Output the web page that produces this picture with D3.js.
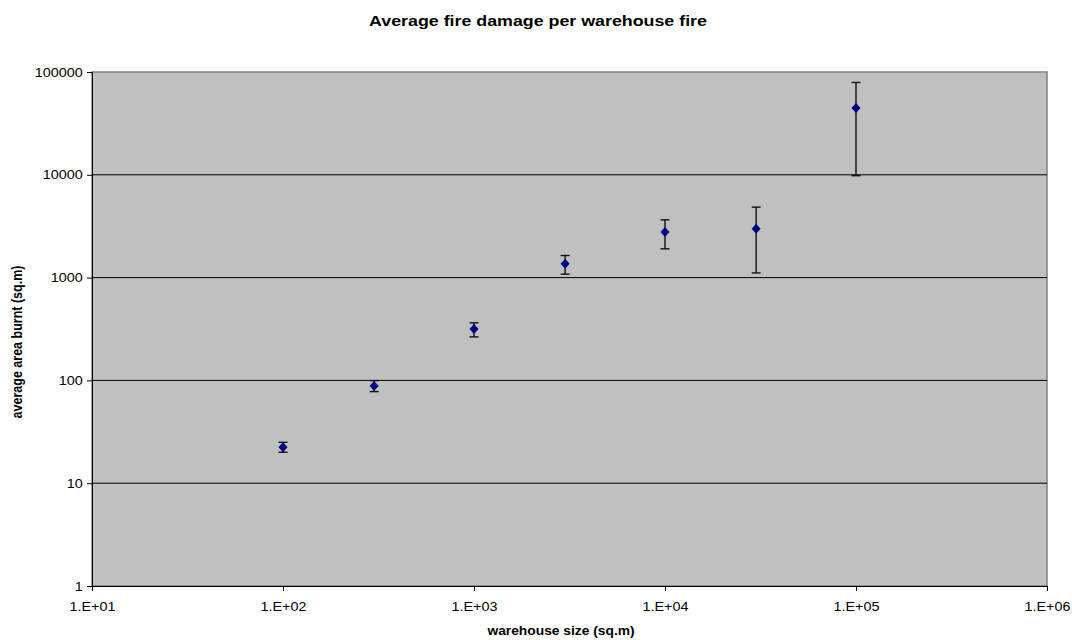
<!DOCTYPE html>
<html>
<head>
<meta charset="utf-8">
<script src="https://cdn.jsdelivr.net/npm/d3@7"></script>
<style>
  body { margin: 0; background: #fff; }
  svg { font-family: "Liberation Sans", Arial, sans-serif; }
</style>
</head>
<body>
<svg id="chart" width="1072" height="640"></svg>
<script>
// warehouse size (sq.m) and average area burnt with error range
const sizes = [100, 300, 1000, 3000, 10000, 30000, 100000];
const burnt = [22.4, 88.4, 317, 1360, 2770, 2980, 44600];
const errLow = [20.0, 77.8, 265, 1080, 1905, 1110, 9800];
const errHigh = [25.0, 99.5, 363, 1640, 3650, 4850, 79100];
const xTicks = [1e1, 1e2, 1e3, 1e4, 1e5, 1e6];
const yTicks = [1, 10, 100, 1000, 10000, 100000];

const svg = d3.select('#chart');
const margin = { top: 72, right: 25, bottom: 54, left: 92 };
const width = 1072, height = 640;
const innerWidth = width - margin.left - margin.right;
const innerHeight = height - margin.top - margin.bottom;
const stretch = 1.15; // text in the original is a bit wide
const g = svg.append('g').attr('transform', `translate(${margin.left},${margin.top})`);

const x = d3.scaleLog().domain([10, 1e6]).range([0, innerWidth]);
const y = d3.scaleLog().domain([1, 1e5]).range([innerHeight, 0]);

g.append('rect')
    .attr('width', innerWidth)
    .attr('height', innerHeight)
    .attr('fill', '#c0c0c0')
    .attr('stroke', '#808080')
    .attr('stroke-width', 1.5);

// horizontal gridlines
g.selectAll('.grid')
    .data(yTicks.slice(1, -1))
    .enter().append('line')
    .attr('x1', 0).attr('x2', innerWidth)
    .attr('y1', d => y(d)).attr('y2', d => y(d))
    .attr('stroke', '#000').attr('stroke-width', 1);

const yAxis = g.append('g')
    .call(d3.axisLeft(y).tickValues(yTicks).tickFormat(d3.format('d')).tickSize(5).tickPadding(3));
const xAxis = g.append('g').attr('transform', `translate(0,${innerHeight})`)
    .call(d3.axisBottom(x).tickValues(xTicks)
        .tickFormat(d => '1.E+' + String(Math.round(Math.log10(d))).padStart(2, '0'))
        .tickSize(5).tickPadding(11));
[yAxis, xAxis].forEach(a => {
    a.selectAll('text').attr('font-size', 12.5).attr('fill', '#000')
        .attr('font-family', '"Liberation Sans", Arial, sans-serif')
        .attr('transform', `scale(${stretch},1)`);
    a.selectAll('line, path').attr('stroke', '#000');
});

// error bars
const capW = 4.5;
const errs = g.selectAll('.err')
    .data(sizes.map((s, i) => ({ s, lo: errLow[i], hi: errHigh[i] })))
    .enter().append('g').attr('stroke', '#111').attr('stroke-width', 1.4);
errs.append('line')
    .attr('x1', d => x(d.s)).attr('x2', d => x(d.s))
    .attr('y1', d => y(d.lo)).attr('y2', d => y(d.hi));
errs.append('line')
    .attr('x1', d => x(d.s) - capW).attr('x2', d => x(d.s) + capW)
    .attr('y1', d => y(d.lo)).attr('y2', d => y(d.lo));
errs.append('line')
    .attr('x1', d => x(d.s) - capW).attr('x2', d => x(d.s) + capW)
    .attr('y1', d => y(d.hi)).attr('y2', d => y(d.hi));

// diamond markers
g.selectAll('.pt')
    .data(sizes.map((s, i) => ({ s, v: burnt[i] })))
    .enter().append('path')
    .attr('d', 'M0,-5L4.5,0L0,5L-4.5,0Z')
    .attr('transform', d => `translate(${x(d.s)},${y(d.v)})`)
    .attr('fill', '#000080');

svg.append('text')
    .attr('transform', `translate(538,26) scale(${stretch},1)`)
    .attr('text-anchor', 'middle')
    .attr('font-size', 15.5).attr('font-weight', 'bold')
    .text('Average fire damage per warehouse fire');

svg.append('text')
    .attr('transform', `translate(561,635) scale(${stretch},1)`)
    .attr('text-anchor', 'middle')
    .attr('font-size', 12).attr('font-weight', 'bold')
    .text('warehouse size (sq.m)');

svg.append('text')
    .attr('transform', `translate(22,342) scale(${stretch},1) rotate(-90)`)
    .attr('text-anchor', 'middle')
    .attr('font-size', 12.5).attr('font-weight', 'bold')
    .text('average area burnt (sq.m)');
</script>
</body>
</html>
